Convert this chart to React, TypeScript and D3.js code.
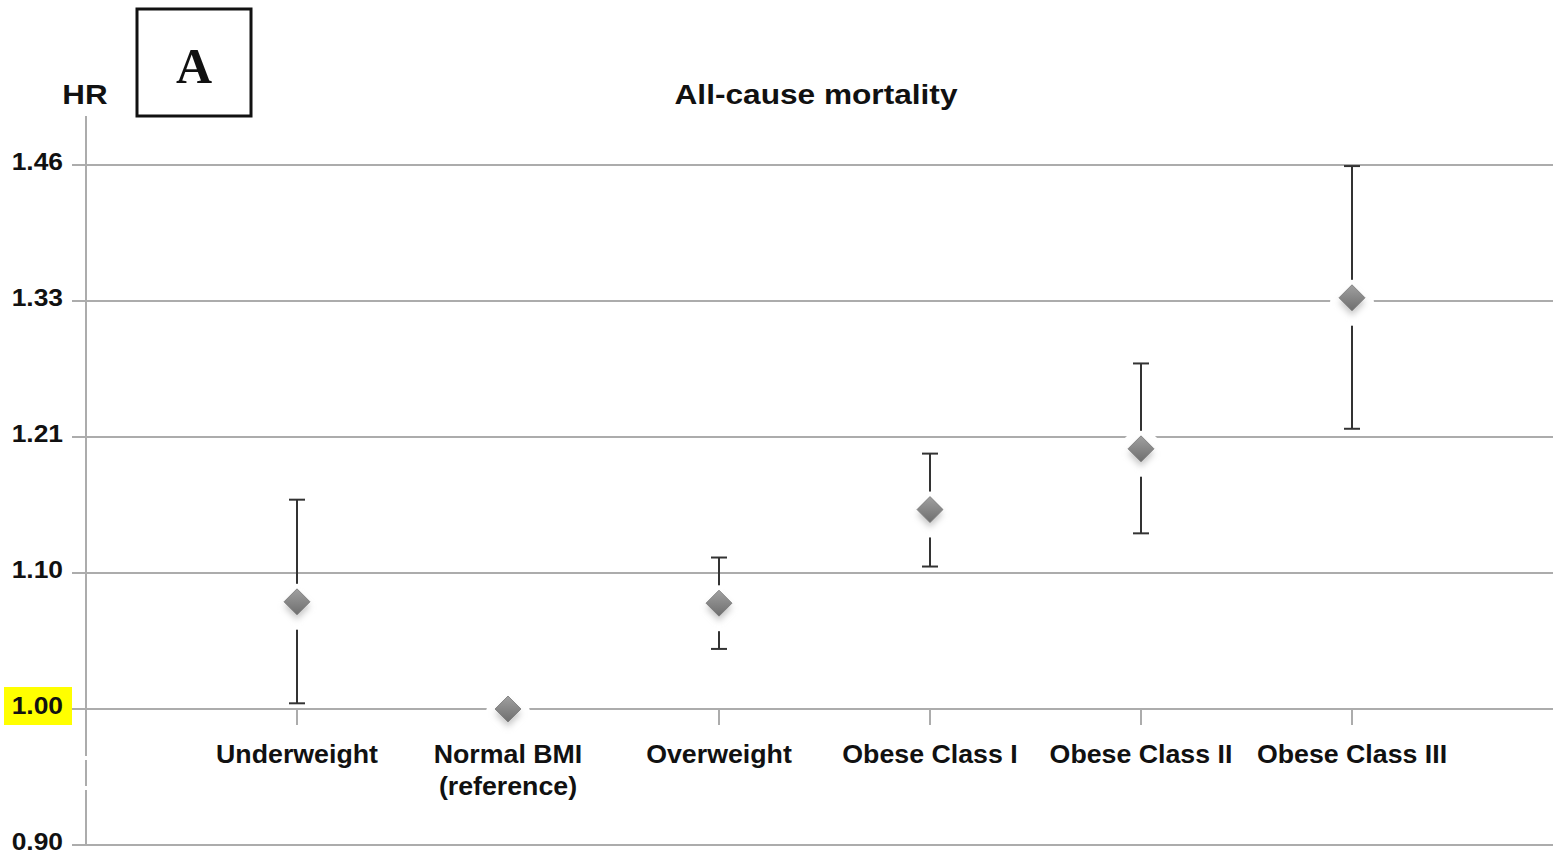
import * as d3 from 'd3';
import { useEffect, useRef } from 'react';

const categories = ['Underweight', 'Normal BMI|(reference)', 'Overweight', 'Obese Class I', 'Obese Class II', 'Obese Class III'];
const hr = [1.078, 1.0, 1.077, 1.15, 1.2, 1.334];
const ciLow = [1.004, null, 1.043, 1.105, 1.131, 1.217];
const ciHigh = [1.158, null, 1.112, 1.196, 1.274, 1.463];
const tickValues = [1 / 1.1, 1, 1.1, 1.21, 1.331, 1.4641];
const tickLabels = ['0.90', '1.00', '1.10', '1.21', '1.33', '1.46'];

export default function App() {
    const ref = useRef<SVGSVGElement>(null);

    useEffect(() => {
        const width = 1553, height = 855;
        const axisX = 86, right = 1553;

        const svg = d3.select(ref.current);
        svg.selectAll('*').remove();
        svg.attr('width', width).attr('height', height);

        const font = 'Liberation Sans, Arial, sans-serif';
        // the original text is a bit wider than Liberation Sans, so stretch it
        const wide = (px: number, py: number, sx: number) => 'translate(' + px + ',' + py + ') scale(' + sx + ',1)';

        const x = d3.scalePoint()
            .domain(categories)
            .range([axisX, 1563])
            .padding(1);

        const y = d3.scaleLog()
            .domain([1 / 1.1, 1.4641])
            .range([845, 165]);

        const defs = svg.append('defs');
        const grad = defs.append('linearGradient')
            .attr('id', 'dia').attr('x1', 0).attr('y1', 0).attr('x2', 0).attr('y2', 1);
        grad.append('stop').attr('offset', '0%').attr('stop-color', '#a0a0a0');
        grad.append('stop').attr('offset', '100%').attr('stop-color', '#6e6e6e');
        const blur = defs.append('filter').attr('id', 'soft').attr('x', '-50%').attr('y', '-50%').attr('width', '200%').attr('height', '200%');
        blur.append('feGaussianBlur').attr('stdDeviation', 3);

        // highlight behind 1.00
        svg.append('rect')
            .attr('x', 4).attr('y', y(1) - 22).attr('width', 68).attr('height', 38)
            .attr('fill', '#ffff00');

        // gridlines + ticks
        svg.append('g')
            .selectAll('line')
            .data(tickValues)
            .enter()
            .append('line')
            .attr('x1', 72).attr('x2', right)
            .attr('y1', d => y(d)).attr('y2', d => y(d))
            .attr('stroke', '#acacac').attr('stroke-width', 2);

        svg.append('g')
            .selectAll('text')
            .data(tickValues)
            .enter()
            .append('text')
            .attr('transform', d => wide(63, y(d) + 5, 1.1))
            .attr('text-anchor', 'end')
            .attr('font-family', font).attr('font-weight', 'bold').attr('font-size', 24)
            .attr('fill', '#111')
            .text((d, i) => tickLabels[i]);

        // y axis line with break
        const axisSegs = [[116, 756], [760, 786], [790, 846]];
        svg.append('g')
            .selectAll('line')
            .data(axisSegs)
            .enter()
            .append('line')
            .attr('x1', axisX).attr('x2', axisX)
            .attr('y1', d => d[0]).attr('y2', d => d[1])
            .attr('stroke', '#acacac').attr('stroke-width', 2);

        // category ticks
        svg.append('g')
            .selectAll('line')
            .data(categories)
            .enter()
            .append('line')
            .attr('x1', d => x(d)!).attr('x2', d => x(d)!)
            .attr('y1', y(1)).attr('y2', y(1) + 16)
            .attr('stroke', '#acacac').attr('stroke-width', 2);

        // category labels
        const labels = svg.append('g')
            .selectAll('text')
            .data(categories)
            .enter()
            .append('text')
            .attr('transform', d => wide(x(d)!, 763, 1.07))
            .attr('text-anchor', 'middle')
            .attr('font-family', font).attr('font-weight', 'bold').attr('font-size', 25)
            .attr('fill', '#111');
        labels.each(function (d) {
            const parts = d.split('|');
            const t = d3.select(this);
            parts.forEach((p, i) => {
                t.append('tspan').attr('x', 0).attr('dy', i === 0 ? 0 : 32).text(p);
            });
        });

        const rows = categories.map((c, i) => ({ c, v: hr[i], lo: ciLow[i], hi: ciHigh[i] }));

        // error bars
        const eb = svg.append('g')
            .selectAll('g')
            .data(rows.filter(d => d.lo !== null))
            .enter()
            .append('g');
        eb.append('line')
            .attr('x1', d => x(d.c)!).attr('x2', d => x(d.c)!)
            .attr('y1', d => y(d.lo!)).attr('y2', d => y(d.hi!))
            .attr('stroke', '#333').attr('stroke-width', 2);
        eb.append('line')
            .attr('x1', d => x(d.c)! - 8).attr('x2', d => x(d.c)! + 8)
            .attr('y1', d => y(d.lo!)).attr('y2', d => y(d.lo!))
            .attr('stroke', '#333').attr('stroke-width', 2);
        eb.append('line')
            .attr('x1', d => x(d.c)! - 8).attr('x2', d => x(d.c)! + 8)
            .attr('y1', d => y(d.hi!)).attr('y2', d => y(d.hi!))
            .attr('stroke', '#333').attr('stroke-width', 2);

        // markers with white halo
        const mk = svg.append('g')
            .selectAll('g')
            .data(rows)
            .enter()
            .append('g')
            .attr('transform', d => 'translate(' + x(d.c) + ',' + y(d.v) + ')');
        mk.append('ellipse')
            .attr('cx', 0).attr('cy', 5).attr('rx', 22).attr('ry', 23)
            .attr('fill', '#fff');
        mk.append('path')
            .attr('d', 'M0,-8 L13,5 L0,18 L-13,5 Z')
            .attr('fill', '#c8c8c8').attr('filter', 'url(#soft)');
        mk.append('path')
            .attr('d', 'M0,-13 L13,0 L0,13 L-13,0 Z')
            .attr('fill', 'url(#dia)').attr('stroke', '#777').attr('stroke-width', 0.8);

        // titles
        svg.append('text')
            .attr('transform', wide(816, 104, 1.13))
            .attr('text-anchor', 'middle')
            .attr('font-family', font).attr('font-weight', 'bold').attr('font-size', 28)
            .attr('fill', '#111')
            .text('All-cause mortality');

        svg.append('text')
            .attr('transform', wide(85, 104, 1.12))
            .attr('text-anchor', 'middle')
            .attr('font-family', font).attr('font-weight', 'bold').attr('font-size', 28)
            .attr('fill', '#111')
            .text('HR');

        svg.append('rect')
            .attr('x', 137).attr('y', 9).attr('width', 114).attr('height', 107)
            .attr('fill', 'none').attr('stroke', '#111').attr('stroke-width', 3);
        svg.append('text')
            .attr('x', 194).attr('y', 83)
            .attr('text-anchor', 'middle')
            .attr('font-family', 'Liberation Serif, DejaVu Serif, serif').attr('font-weight', 'bold').attr('font-size', 50)
            .attr('fill', '#111')
            .text('A');
    }, []);

    return (
        <div style={{ position: 'absolute', left: 0, top: 0 }}>
            <svg ref={ref} style={{ display: 'block' }}></svg>
        </div>
    );
}
